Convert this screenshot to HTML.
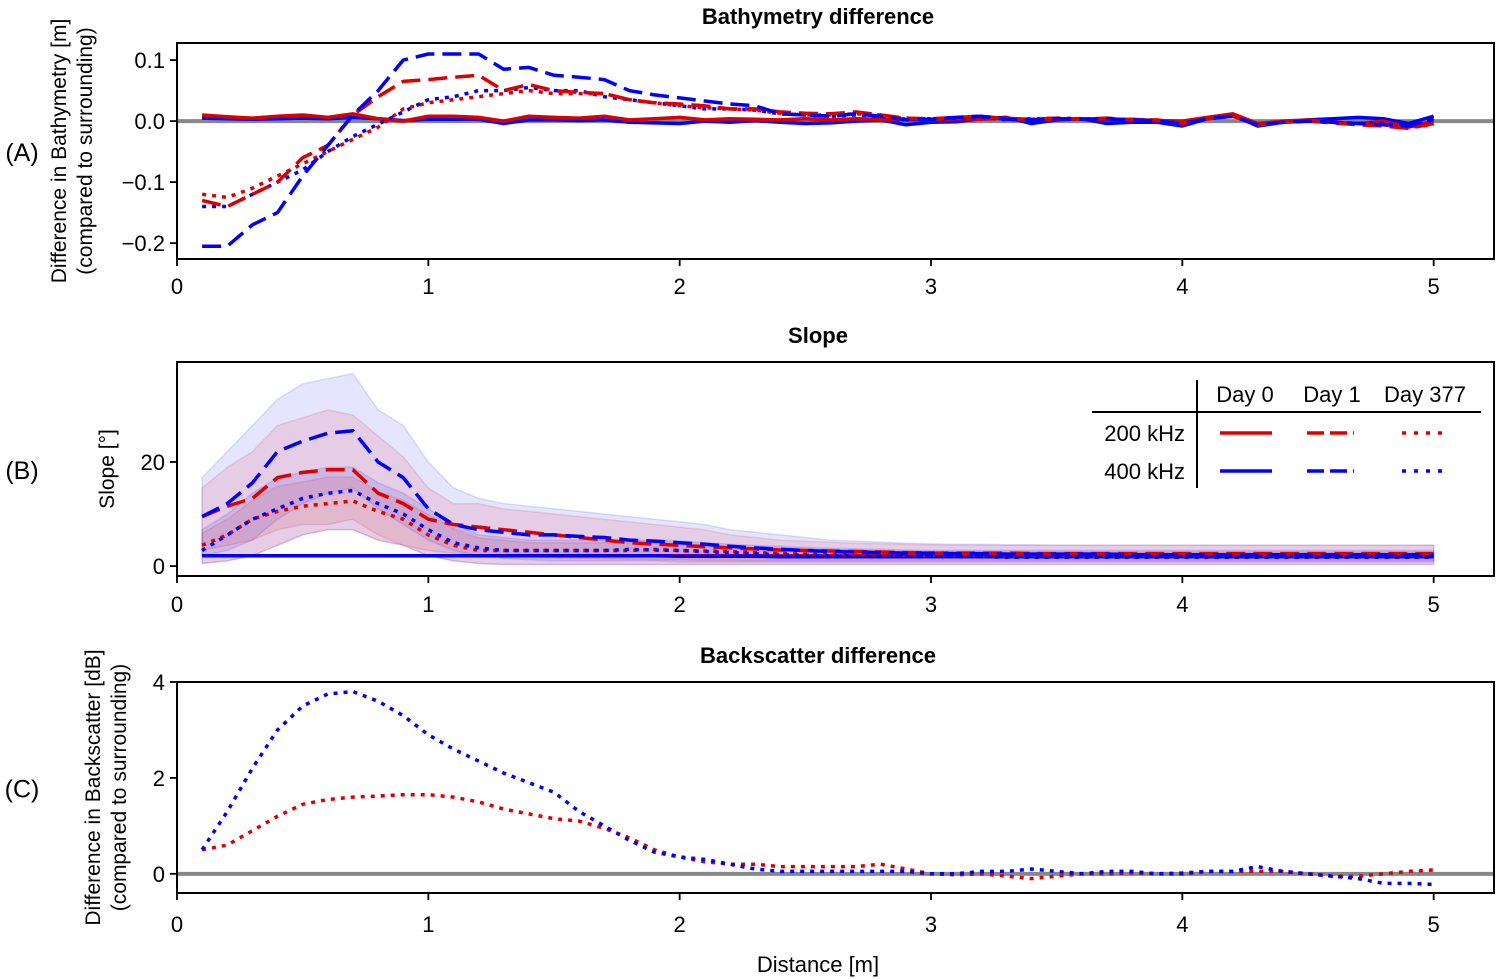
<!DOCTYPE html>
<html><head><meta charset="utf-8"><style>
body{margin:0;background:#fff;}
svg{display:block;font-family:"Liberation Sans",Arial,sans-serif;}
</style></head><body>
<svg id="chart" width="1500" height="979">
<g id="bg"></g>
</svg>
<script>
const xs = [];
for (let i = 1; i <= 50; i++) xs.push(i / 10);
// Panel A: bathymetry difference [m]
const bathy200d0 = [0.01,0.007,0.005,0.008,0.01,0.006,0.012,0.004,0.0,0.008,0.008,0.006,0.0,0.008,0.006,0.005,0.008,0.002,0.004,0.006,0.002,0.004,0.003,0.002,0.004,0.002,0.004,0.003,0.002,0.002,0.004,0.003,0.005,0.002,0.003,0.004,0.002,0.003,0.001,0.0,0.006,0.012,-0.004,0.0,0.002,-0.002,-0.004,0.0,-0.01,0.0];
const bathy200d1 = [-0.13,-0.14,-0.12,-0.1,-0.06,-0.04,0.01,0.04,0.065,0.068,0.072,0.075,0.05,0.06,0.05,0.047,0.045,0.035,0.03,0.028,0.025,0.02,0.02,0.015,0.013,0.012,0.015,0.01,0.005,0.004,0.006,0.008,0.004,0.003,0.005,0.003,0.005,0.002,0.002,-0.004,0.004,0.008,-0.006,-0.002,0.0,-0.003,-0.006,-0.008,-0.012,-0.004];
const bathy200d377 = [-0.12,-0.125,-0.11,-0.09,-0.07,-0.05,-0.03,-0.01,0.02,0.03,0.035,0.04,0.045,0.05,0.045,0.045,0.045,0.035,0.03,0.025,0.022,0.02,0.018,0.013,0.01,0.01,0.012,0.01,0.004,0.004,0.006,0.007,0.003,0.004,0.005,0.004,0.004,0.002,0.001,-0.004,0.005,0.01,-0.006,-0.002,0.0,-0.002,-0.004,-0.006,-0.01,-0.006];
const bathy400d0 = [0.005,0.004,0.003,0.004,0.005,0.004,0.006,0.004,0.001,0.003,0.003,0.003,-0.004,0.002,0.002,0.001,0.002,-0.002,-0.003,-0.004,0.0,-0.002,0.001,-0.002,-0.004,-0.003,0.0,0.002,-0.006,-0.002,-0.001,0.004,0.006,-0.004,0.002,0.004,-0.004,-0.002,-0.002,-0.008,0.004,0.01,-0.008,-0.002,0.002,0.004,0.006,0.004,-0.004,0.008];
const bathy400d1 = [-0.205,-0.205,-0.17,-0.15,-0.09,-0.04,0.01,0.05,0.1,0.11,0.11,0.11,0.085,0.088,0.075,0.072,0.068,0.05,0.043,0.038,0.033,0.028,0.025,0.012,0.01,0.008,0.012,0.008,0.002,0.003,0.006,0.008,0.003,0.002,0.004,0.003,0.004,0.002,0.0,-0.004,0.004,0.008,-0.006,-0.002,0.0,-0.002,-0.004,-0.006,-0.008,0.004];
const bathy400d377 = [-0.14,-0.14,-0.12,-0.1,-0.08,-0.05,-0.025,-0.005,0.015,0.035,0.04,0.05,0.05,0.055,0.05,0.05,0.04,0.035,0.03,0.025,0.02,0.02,0.018,0.012,0.01,0.008,0.01,0.008,0.003,0.003,0.005,0.006,0.002,0.003,0.004,0.003,0.004,0.002,0.001,-0.004,0.004,0.008,-0.006,-0.002,0.0,-0.002,-0.004,-0.004,-0.008,0.0];
// Panel B: slope [deg]
const slope200d0 = Array(50).fill(2.0);
const slope400d0 = [2,2,2,2,2,2,2,2,2,2,2,2,2,2,2,2,2,2,2,1.9,1.9,1.9,1.9,1.8,1.8,1.8,1.8,1.8,1.8,1.8,1.8,1.8,1.8,1.8,1.8,1.8,1.8,1.8,1.8,1.8,1.8,1.8,1.8,1.8,1.8,1.8,1.8,1.8,1.8,1.8];
const slope200d1 = [9.5,11.5,13,17,18,18.5,18.5,14,12,9,8,7.5,7,6.5,6,5.5,5,4.5,4.2,4,3.7,3.5,3.3,3.1,3,2.9,2.8,2.7,2.6,2.5,2.5,2.5,2.5,2.4,2.4,2.4,2.4,2.4,2.4,2.4,2.4,2.4,2.4,2.4,2.4,2.4,2.4,2.4,2.4,2.4];
const slope400d1 = [9.5,12,16,22,24,25.5,26,20,17,11,8,7,6.5,6,6,5.7,5.5,5,4.8,4.5,4.2,3.8,3.5,3.2,3,2.8,2.7,2.6,2.5,2.5,2.4,2.4,2.3,2.3,2.3,2.3,2.3,2.2,2.2,2.2,2.2,2.2,2.2,2.2,2.2,2.2,2.2,2.2,2.2,2.2];
const slope200d377 = [4,6,9,10.5,11.5,12,12.5,10.5,9,6,4,3,3,3,3,3,3,3,3.2,3,2.9,2.8,2.6,2.4,2.3,2.2,2.1,2.1,2,2,2,2,2,2,2,2,2,2,2,2,2,2,2,2,2,2,2,2,2,2];
const slope400d377 = [3,6,9,11,13,14,14.5,12,10,7,4.5,3.5,3,3,3,3,3,3.2,3.1,3,2.8,2.6,2.4,2.2,2.1,2,1.9,1.9,1.8,1.8,1.8,1.8,1.7,1.7,1.7,1.7,1.7,1.7,1.7,1.7,1.7,1.7,1.7,1.7,1.7,1.7,1.7,1.7,1.7,1.7];
const band400d1Up = [17,22,27,32,35,36,37,30,27,20,15,13,12,11.5,11,10.5,10,9.5,9,8.5,8,7,6.5,6,5.5,5,4.8,4.6,4.4,4.3,4.2,4.2,4.1,4.1,4,4,4,4,4,4,4,4,4,4,4,4,4,4,4,4];
const band400d1Lo = [2,3,5,9,12,14,15,11,8,5,3,2,1.5,1.2,1,1,1,1,1,0.8,0.8,0.8,0.8,0.8,0.8,0.8,0.8,0.8,0.8,0.8,0.8,0.8,0.8,0.8,0.8,0.8,0.8,0.8,0.8,0.8,0.8,0.8,0.8,0.8,0.8,0.8,0.8,0.8,0.8,0.8];
const band200d1Up = [15,19,22,27,28.5,30,29,25,21,15,12,12,11,10.5,10,9.5,9,8.5,8,7.5,7,6,5.5,5,4.8,4.6,4.4,4.3,4.2,4.1,4,4,4,4,4,4,4,4,4,4,4,4,4,4,4,4,4,4,4,4];
const band200d1Lo = [3,4,5,7,8,8,9,6,4,3,2.5,2,2,1.8,1.6,1.5,1.4,1.3,1.2,1.2,1.1,1.1,1,1,1,1,1,1,1,1,1,1,1,1,1,1,1,1,1,1,1,1,1,1,1,1,1,1,1,1];
const band377Up = [7,10,14,17,18,19,19,16,14,11,8,6,5.5,5,5,5,5,5,5,4.8,4.5,4.2,4,3.8,3.6,3.4,3.3,3.2,3.1,3,3,3,3,3,3,3,3,3,3,3,3,3,3,3,3,3,3,3,3,3];
const band377Lo = [0.5,1,2,4,6,7,7,5,4,2,1,0.5,0.3,0.3,0.3,0.3,0.3,0.3,0.3,0.3,0.3,0.3,0.3,0.3,0.3,0.3,0.3,0.3,0.3,0.3,0.3,0.3,0.3,0.3,0.3,0.3,0.3,0.3,0.3,0.3,0.3,0.3,0.3,0.3,0.3,0.3,0.3,0.3,0.3,0.3];
// Panel C: backscatter difference [dB]
const bs200d377 = [0.5,0.6,0.9,1.2,1.45,1.55,1.6,1.62,1.65,1.65,1.6,1.5,1.35,1.25,1.15,1.1,0.95,0.75,0.5,0.35,0.25,0.2,0.2,0.15,0.15,0.15,0.15,0.2,0.1,0,-0.02,0,-0.05,-0.1,-0.05,0,0,0.02,0,0.02,0.05,0.05,0.05,0.05,0,-0.05,-0.05,0,0.05,0.08];
const bs400d377 = [0.5,1.3,2.2,3.0,3.5,3.75,3.8,3.6,3.3,2.9,2.6,2.35,2.1,1.9,1.7,1.3,1.0,0.7,0.45,0.35,0.3,0.2,0.1,0.05,0.05,0.05,0.05,0.05,0.05,0,0,0.05,0.05,0.1,0.05,0,0.05,0.05,0,0,0.05,0.05,0.15,0.05,0,-0.05,-0.1,-0.2,-0.2,-0.22];
const xTicks = [0,1,2,3,4,5];
const aTicks = [-0.2,-0.1,0.0,0.1];
const bTicks = [0,20];
const cTicks = [0,2,4];

const NS = "http://www.w3.org/2000/svg";
const svg = document.getElementById('chart');
function el(tag, attrs, parent, text) {
  const e = document.createElementNS(NS, tag);
  for (const k in attrs) e.setAttribute(k, attrs[k]);
  if (text !== undefined) e.textContent = text;
  (parent || svg).appendChild(e);
  return e;
}
const RED = '#dd0000', BLUE = '#0000ff';
const L = 177, R = 1494;
const xMin = 0, xMax = 5.24;
function xScale(v) { return L + (v - xMin) / (xMax - xMin) * (R - L); }
function mkY(top, bottom, vTop, vBot) { return v => top + (vTop - v) / (vTop - vBot) * (bottom - top); }

const panels = [
  {key:'a', top:43, bottom:259, vTop:0.128, vBot:-0.226, ticks:aTicks, fmt:v=>v.toFixed(1).replace('-','−'), title:'Bathymetry difference', letter:'(A)', ylab:['Difference in Bathymetry [m]','(compared to surrounding)'], ylx:[66,92], tickLabelY:294},
  {key:'b', top:362, bottom:576, vTop:39.2, vBot:-1.9, ticks:bTicks, fmt:v=>String(v), title:'Slope', letter:'(B)', ylab:['Slope [°]'], ylx:[114], tickLabelY:612},
  {key:'c', top:682, bottom:893, vTop:4.0, vBot:-0.4, ticks:cTicks, fmt:v=>String(v), title:'Backscatter difference', letter:'(C)', ylab:['Difference in Backscatter [dB]','(compared to surrounding)'], ylx:[100,126], tickLabelY:932}
];
panels.forEach(p => { p.y = mkY(p.top, p.bottom, p.vTop, p.vBot); });

function linePath(ys, yS) { return xs.map((x,i)=>(i?'L':'M')+xScale(x).toFixed(1)+','+yS(ys[i]).toFixed(1)).join(''); }
function bandPath(up, lo, yS) {
  let d = xs.map((x,i)=>(i?'L':'M')+xScale(x).toFixed(1)+','+yS(up[i]).toFixed(1)).join('');
  for (let i = xs.length-1; i >= 0; i--) d += 'L'+xScale(xs[i]).toFixed(1)+','+yS(lo[i]).toFixed(1);
  return d+'Z';
}
const DASH = '19,8', DOT = '4,6';
function series(g, ys, yS, color, dash, name) {
  const a = {d:linePath(ys,yS), fill:'none', stroke:color, 'stroke-width':3.5, 'stroke-linejoin':'round'};
  if (dash) a['stroke-dasharray'] = dash;
  const e = el('path', a, g);
  
  
}
function band(g, up, lo, yS, color, name) {
  const e = el('path', {d:bandPath(up,lo,yS), fill:color, 'fill-opacity':0.1, stroke:color, 'stroke-opacity':0.12, 'stroke-width':1.5}, g);
  
  
}

panels.forEach(p => {
  const g = el('g', {});
  
  
  const t = el('text', {x:818, y:p.top-19, 'text-anchor':'middle', 'font-size':22, 'font-weight':'bold'}, g, p.title);
  
  
  const lt = el('text', {x:22, y:(p.top+p.bottom)/2+10, 'text-anchor':'middle', 'font-size':25}, g, p.letter);
  
  
  p.ylab.forEach((s,i) => {
    const cx = p.ylx[i], cy = (p.top+p.bottom)/2;
    const yl = el('text', {x:cx, y:cy, 'text-anchor':'middle', 'font-size':21, transform:`rotate(-90 ${cx} ${cy})`}, g, s);
    
    
  });
  xTicks.forEach(v => {
    const x = xScale(v);
    el('line', {x1:x, x2:x, y1:p.bottom, y2:p.bottom+7, stroke:'#000', 'stroke-width':1.8}, g);
    const tl = el('text', {x:x, y:p.tickLabelY, 'text-anchor':'middle', 'font-size':22}, g, String(v));
    
    
  });
  p.ticks.forEach(v => {
    const y = p.y(v);
    el('line', {x1:L-7, x2:L, y1:y, y2:y, stroke:'#000', 'stroke-width':1.8}, g);
    const tl = el('text', {x:L-12, y:y+8, 'text-anchor':'end', 'font-size':22}, g, p.fmt(v));
    
    
  });
  p.g = g;
});

// Panel A
{
  const p = panels[0], g = p.g, y = p.y;
  const z = el('line', {x1:L, x2:R, y1:y(0), y2:y(0), stroke:'#888', 'stroke-width':4}, g);
  
  
  series(g, bathy400d0, y, BLUE, null, 'line-400khz-day0');
  series(g, bathy200d0, y, RED, null, 'line-200khz-day0');
  series(g, bathy400d377, y, BLUE, DOT, 'line-400khz-day377');
  series(g, bathy200d377, y, RED, DOT, 'line-200khz-day377');
  series(g, bathy200d1, y, RED, DASH, 'line-200khz-day1');
  series(g, bathy400d1, y, BLUE, DASH, 'line-400khz-day1');
}
// Panel B
{
  const p = panels[1], g = p.g, y = p.y;
  band(g, band400d1Up, band400d1Lo, y, BLUE, 'band-400khz-day1');
  band(g, band200d1Up, band200d1Lo, y, RED, 'band-200khz-day1');
  band(g, band377Up, band377Lo, y, BLUE, 'band-400khz-day377');
  band(g, band377Up.map(v=>v*0.9), band377Lo, y, RED, 'band-200khz-day377');
  series(g, slope200d0, y, RED, null, 'line-200khz-day0');
  series(g, slope400d0, y, BLUE, null, 'line-400khz-day0');
  series(g, slope200d377, y, RED, DOT, 'line-200khz-day377');
  series(g, slope400d377, y, BLUE, DOT, 'line-400khz-day377');
  series(g, slope200d1, y, RED, DASH, 'line-200khz-day1');
  series(g, slope400d1, y, BLUE, DASH, 'line-400khz-day1');
  const lg = el('g', {}, g);
  
  
  el('line', {x1:1092, x2:1481, y1:412, y2:412, stroke:'#000', 'stroke-width':2}, lg);
  el('line', {x1:1197, x2:1197, y1:380, y2:488, stroke:'#000', 'stroke-width':2}, lg);
  [['Day 0',1245],['Day 1',1332],['Day 377',1425]].forEach(a=>{
    const t = el('text', {x:a[1], y:402, 'text-anchor':'middle', 'font-size':22}, lg, a[0]);
    
    
  });
  [['200 kHz',441,RED],['400 kHz',479,BLUE]].forEach(a=>{
    const t = el('text', {x:1185, y:a[1], 'text-anchor':'end', 'font-size':22}, lg, a[0]);
    
    
    const yy = a[1]-8;
    const s0 = el('line', {x1:1220, x2:1272, y1:yy, y2:yy, stroke:a[2], 'stroke-width':3.5}, lg);
    
    
    const s1 = el('line', {x1:1307, x2:1354, y1:yy, y2:yy, stroke:a[2], 'stroke-width':3.5, 'stroke-dasharray':'17,6'}, lg);
    
    
    const s2 = el('line', {x1:1402, x2:1450, y1:yy, y2:yy, stroke:a[2], 'stroke-width':3.5, 'stroke-dasharray':'4,8'}, lg);
    
    
  });
}
// Panel C
{
  const p = panels[2], g = p.g, y = p.y;
  const z = el('line', {x1:L, x2:R, y1:y(0), y2:y(0), stroke:'#888', 'stroke-width':4}, g);
  
  
  series(g, bs200d377, y, RED, DOT, 'line-200khz-day377');
  series(g, bs400d377, y, BLUE, DOT, 'line-400khz-day377');
  const xt = el('text', {x:818, y:972, 'text-anchor':'middle', 'font-size':22}, g, 'Distance [m]');
  
  
}
panels.forEach(p => {
  const f = el('rect', {x:L, y:p.top, width:R-L, height:p.bottom-p.top, fill:'none', stroke:'#000', 'stroke-width':2}, p.g);
  
  
});
</script>
</body></html>
